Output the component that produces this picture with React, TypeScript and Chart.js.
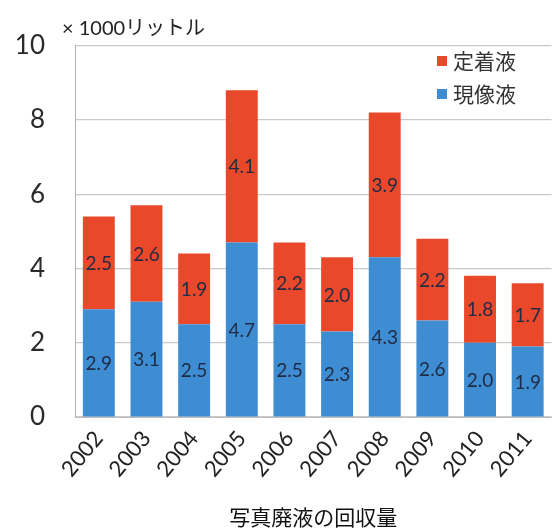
import React, { useEffect, useRef } from "react";
import { Chart, registerables } from "chart.js";

Chart.register(...registerables);

const years = ["2002", "2003", "2004", "2005", "2006", "2007", "2008", "2009", "2010", "2011"];
const developer = [2.9, 3.1, 2.5, 4.7, 2.5, 2.3, 4.3, 2.6, 2.0, 1.9];
const fixer = [2.5, 2.6, 1.9, 4.1, 2.2, 2.0, 3.9, 2.2, 1.8, 1.7];
const yTicks = [0, 2, 4, 6, 8, 10];
const unitLabel = "× 1000リットル";
const caption = "写真廃液の回収量";
const developerName = "現像液";
const fixerName = "定着液";

const RED = "rgb(233,72,43)";
const BLUE = "rgb(62,141,210)";
const FONT = "Lato, 'Noto Sans CJK JP', sans-serif";
const CJK = "'Noto Sans CJK JP', Lato, sans-serif";

export default function App() {
  const ref = useRef<HTMLCanvasElement | null>(null);

  useEffect(() => {
    document.body.style.margin = "0";
    const canvas = ref.current!;
    const extras = {
      id: "extras",
      afterDatasetsDraw(chart: any) {
        const ctx = chart.ctx;
        ctx.save();
        ctx.fillStyle = "#1f2a44";
        ctx.font = `19px ${FONT}`;
        ctx.textAlign = "center";
        ctx.textBaseline = "middle";
        chart.data.datasets.forEach((ds: any, di: number) => {
          const meta = chart.getDatasetMeta(di);
          meta.data.forEach((el: any, i: number) => {
            const p = el.getProps(["x", "y", "base"], true);
            ctx.fillText(Number(ds.data[i]).toFixed(1), p.x, (p.y + p.base) / 2 + 1);
          });
        });
        ctx.restore();
      },
      afterDraw(chart: any) {
        const ctx = chart.ctx;
        const area = chart.chartArea;
        ctx.save();
        // unit label
        ctx.fillStyle = "#222";
        ctx.font = `20px ${FONT}`;
        ctx.textAlign = "left";
        ctx.textBaseline = "alphabetic";
        ctx.fillText(unitLabel, area.left - 13, area.top - 11);
        // legend (top series first)
        const items = [
          { label: chart.data.datasets[1].label, color: chart.data.datasets[1].backgroundColor },
          { label: chart.data.datasets[0].label, color: chart.data.datasets[0].backgroundColor },
        ];
        ctx.font = `21px ${CJK}`;
        ctx.textBaseline = "middle";
        items.forEach((it, k) => {
          const cy = 61 + k * 33;
          ctx.fillStyle = it.color;
          ctx.fillRect(437, cy - 5, 10, 10);
          ctx.fillStyle = "#333";
          ctx.fillText(it.label, 453, cy);
        });
        // caption
        ctx.fillStyle = "#111";
        ctx.font = `21px ${CJK}`;
        ctx.textAlign = "center";
        ctx.fillText(caption, (area.left + area.right) / 2, 517);
        ctx.restore();
      },
    };

    const chart = new Chart(canvas, {
      type: "bar",
      data: {
        labels: years,
        datasets: [
          { label: developerName, data: developer, backgroundColor: BLUE, barPercentage: 0.67, categoryPercentage: 1 },
          { label: fixerName, data: fixer, backgroundColor: RED, barPercentage: 0.67, categoryPercentage: 1 },
        ],
      },
      options: {
        responsive: false,
        animation: false,
        devicePixelRatio: 1,
        layout: { padding: { top: 37, right: 2, left: 0, bottom: 0 } },
        plugins: { legend: { display: false }, title: { display: false }, tooltip: { enabled: false } },
        scales: {
          x: {
            stacked: true,
            grid: { display: false, drawTicks: false },
            border: { display: true, color: "#bdbdbd" },
            ticks: {
              color: "#222",
              font: { family: FONT, size: 22 },
              minRotation: 50,
              maxRotation: 50,
              padding: 9,
            },
            afterFit(scale: any) {
              scale.height = 112;
            },
          },
          y: {
            stacked: true,
            min: 0,
            max: 10,
            afterBuildTicks(scale: any) {
              scale.ticks = yTicks.map((v) => ({ value: v }));
            },
            grid: { color: "#c9c9c9", drawTicks: false, lineWidth: 1.2 },
            border: { display: true, color: "#b0b0b0" },
            ticks: {
              color: "#2a2a2a",
              font: { family: FONT, size: 26 },
              padding: 30,
            },
            afterFit(scale: any) {
              scale.width = 75;
            },
          },
        },
      },
      plugins: [extras],
    } as any);
    return () => chart.destroy();
  }, []);

  return (
    <div style={{ width: 557, height: 529, background: "#fff" }}>
      <canvas ref={ref} width={557} height={529} style={{ display: "block" }} />
    </div>
  );
}
